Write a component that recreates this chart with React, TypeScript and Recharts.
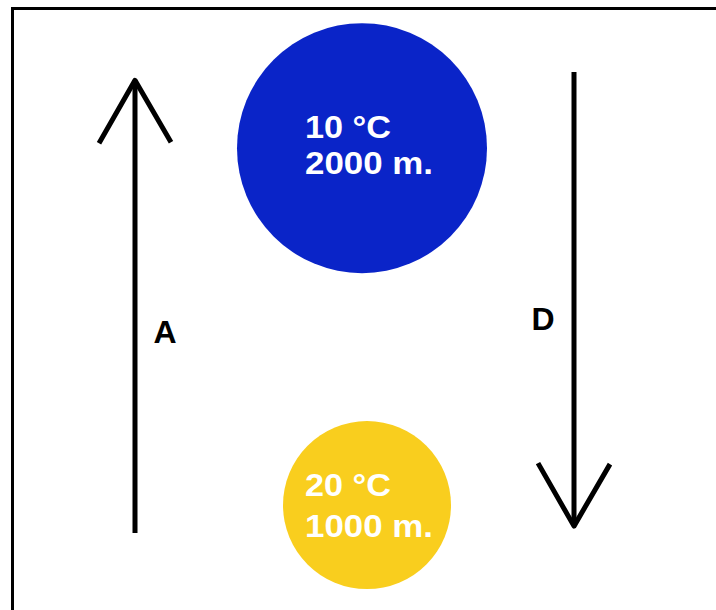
import React from 'react';
import { ComposedChart, XAxis, YAxis, Scatter, Line } from 'recharts';

// ---- data ----
const parcelNames = ['cold', 'warm'];
const temperatures = [10, 20]; // °C
const altitudes = [2000, 1000]; // m
const parcelX = [362, 367]; // horizontal placement (diagram units)

const arrowNames = ['A', 'D'];
const arrowX = [135, 574];
const arrowFrom = [922, 2213]; // altitude where the arrow starts (m)
const arrowTo = [2190, 941]; // altitude where the arrow points (m)

const xDomain = [0, 716];
const altitudeDomain = [706, 2415];

// ---- styles ----
const W = 716;
const H = 610;
const FONT = '"Liberation Sans", Arial, Helvetica, sans-serif';
const PARCEL_STYLE: Record<string, any> = {
  cold: { fill: '#0A24C8', r: 125, dx: -57, dy1: -10, dy2: 26 },
  warm: { fill: '#F9CE1E', r: 84, dx: -62, dy1: -9, dy2: 32 },
};
const LABEL_DY: Record<string, number> = { A: 36, D: 31 };

const parcels = parcelNames.map((name, i) => ({
  name,
  x: parcelX[i],
  alt: altitudes[i],
  temp: temperatures[i],
}));

const arrows = arrowNames.map((name, i) => ({
  name,
  data: [
    { x: arrowX[i], alt: arrowFrom[i] },
    { x: arrowX[i], alt: arrowTo[i] },
  ],
  up: arrowTo[i] > arrowFrom[i],
}));

const arrowLabels = arrowNames.map((name, i) => ({
  name,
  x: arrowX[i],
  alt: (arrowFrom[i] + arrowTo[i]) / 2,
}));

const ParcelShape = (props: any) => {
  const { cx, cy, payload } = props;
  const s = PARCEL_STYLE[payload.name];
  return (
    <g>
      <circle cx={cx} cy={cy} r={s.r} fill={s.fill} />
      <text
        x={cx + s.dx}
        y={cy + s.dy1}
        fill="#ffffff"
        fontFamily={FONT}
        fontWeight="bold"
        fontSize={31}
        textLength={86}
        lengthAdjust="spacingAndGlyphs"
      >
        {`${payload.temp} °C`}
      </text>
      <text
        x={cx + s.dx}
        y={cy + s.dy2}
        fill="#ffffff"
        fontFamily={FONT}
        fontWeight="bold"
        fontSize={31}
        textLength={128}
        lengthAdjust="spacingAndGlyphs"
      >
        {`${payload.alt} m.`}
      </text>
    </g>
  );
};

const makeHead = (up: boolean) => (props: any) => {
  const { cx, cy, index } = props;
  if (index !== 1 || cx == null || cy == null) return <g key={`h${index}`} />;
  const d = up ? 1 : -1;
  const pts = `${cx - 36},${cy + 63 * d} ${cx},${cy} ${cx + 36},${cy + 62 * d}`;
  return (
    <polyline
      key={`h${index}`}
      points={pts}
      fill="none"
      stroke="#000"
      strokeWidth={5}
      strokeLinejoin="round"
    />
  );
};

const LabelShape = (props: any) => {
  const { cx, cy, payload } = props;
  const toRight = cx < W / 2;
  return (
    <text
      x={cx + (toRight ? 30 : -31)}
      y={cy + LABEL_DY[payload.name]}
      textAnchor="middle"
      fill="#000"
      fontFamily={FONT}
      fontWeight="bold"
      fontSize={32}
    >
      {payload.name}
    </text>
  );
};

export default function App() {
  return (
    <div style={{ position: 'absolute', left: 0, top: 0, width: W, height: H, background: '#fff' }}>
      <ComposedChart width={W} height={H} margin={{ top: 0, right: 0, bottom: 0, left: 0 }}>
        <XAxis type="number" dataKey="x" domain={xDomain} hide allowDataOverflow />
        <YAxis type="number" dataKey="alt" domain={altitudeDomain} hide allowDataOverflow />
        <Scatter data={parcels} dataKey="alt" shape={ParcelShape} isAnimationActive={false} />
        {arrows.map((a) => (
          <Line
            key={a.name}
            data={a.data}
            dataKey="alt"
            type="linear"
            stroke="#000"
            strokeWidth={5}
            dot={makeHead(a.up)}
            activeDot={false}
            isAnimationActive={false}
          />
        ))}
        <Scatter data={arrowLabels} dataKey="alt" shape={LabelShape} isAnimationActive={false} />
      </ComposedChart>
      <div
        style={{
          position: 'absolute',
          left: 11,
          top: 7,
          width: W - 11,
          height: H - 7,
          borderTop: '3px solid #000',
          borderLeft: '3px solid #000',
          boxSizing: 'border-box',
          pointerEvents: 'none',
        }}
      />
    </div>
  );
}
